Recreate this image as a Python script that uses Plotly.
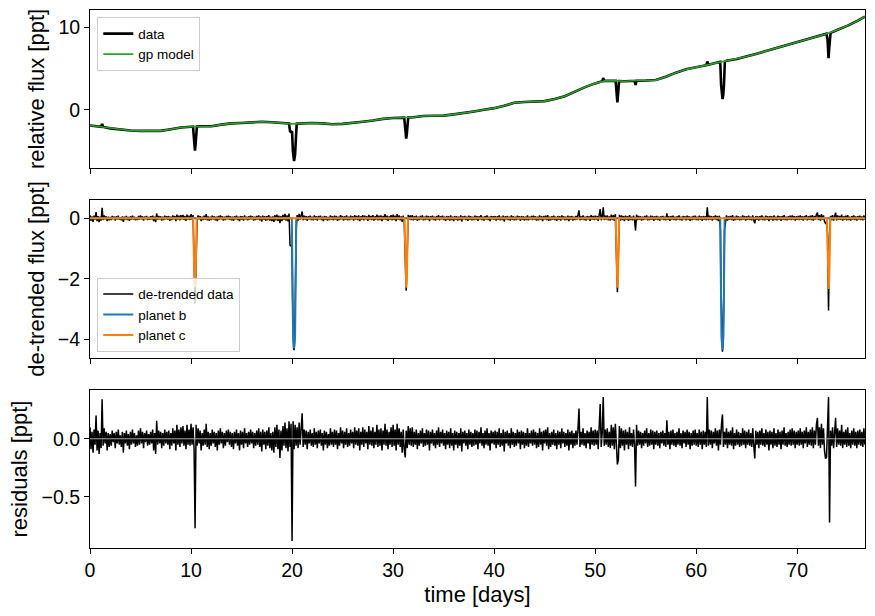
import plotly.graph_objects as go

# ---------------- data ----------------
cadence = 0.1  # days between residual samples, starting at t = 0

residuals = [
    0.1, -0.09, 0.06, -0.12, 0.08, -0.05, 0.20, -0.1, 0.07, -0.13, 0.05, -0.08, 0.34, -0.06, 0.09, -0.04, 0.06, -0.1, 0.05, -0.07,
    0.04, -0.06, 0.07, -0.03, 0.05, -0.08, 0.06, -0.04, 0.08, -0.05, 0.03, -0.07, 0.06, -0.12, 0.05, -0.04, 0.07, -0.06, 0.04, -0.09,
    0.06, -0.05, 0.08, -0.04, 0.05, -0.07, 0.03, -0.06, 0.07, -0.05, 0.09, -0.04, 0.06, -0.08, 0.05, -0.03, 0.07, -0.06, 0.04, -0.05,
    0.06, -0.04, 0.08, -0.1, 0.05, -0.13, 0.155, -0.05, 0.07, -0.04, 0.06, -0.08, 0.05, -0.06, 0.08, -0.04, 0.06, -0.05, 0.07, -0.09,
    0.05, -0.06, 0.09, -0.04, 0.07, -0.1, 0.12, -0.05, 0.08, -0.07, 0.1, -0.04, 0.11, -0.06, 0.07, -0.09, 0.12, -0.05, 0.08, -0.06,
    0.13, -0.05, 0.1, -0.08, -0.77, 0.12, -0.06, 0.09, -0.04, 0.07, -0.1, 0.05, -0.06, 0.08, -0.05, 0.13, -0.07, 0.06, -0.09, 0.05,
    -0.06, 0.08, -0.04, 0.06, -0.07, 0.05, -0.1, 0.07, -0.05, 0.09, -0.04, 0.06, -0.08, 0.05, -0.06, 0.07, -0.03, 0.08, -0.05, 0.06,
    -0.07, 0.05, -0.09, 0.06, -0.04, 0.08, -0.06, 0.05, -0.1, 0.07, -0.05, 0.06, -0.08, 0.09, -0.04, 0.05, -0.07, 0.06, -0.05, 0.08,
    -0.04, 0.06, -0.08, 0.05, -0.06, 0.07, -0.05, 0.09, -0.07, 0.06, -0.11, 0.08, -0.05, 0.06, -0.09, 0.07, -0.06, 0.1, -0.08, 0.05,
    -0.1, 0.06, -0.12, 0.1, -0.07, 0.12, -0.09, 0.08, -0.165, 0.07, -0.1, 0.11, -0.06, 0.14, -0.08, 0.09, -0.11, 0.15, -0.07, 0.13,
    -0.88, 0.15, -0.09, 0.12, -0.06, 0.1, -0.08, 0.14, -0.05, 0.09, 0.22, -0.07, 0.08, -0.05, 0.07, -0.09, 0.06, -0.04, 0.08, -0.06,
    0.05, -0.07, 0.09, -0.05, 0.06, -0.08, 0.07, -0.04, 0.08, -0.06, 0.05, -0.1, 0.07, -0.05, 0.06, -0.08, 0.04, -0.06, 0.09, -0.05,
    0.06, -0.07, 0.08, -0.05, 0.07, -0.09, 0.05, -0.06, 0.1, -0.04, 0.07, -0.08, 0.06, -0.05, 0.09, -0.07, 0.05, -0.06, 0.08, -0.04,
    0.06, -0.08, 0.1, -0.05, 0.07, -0.06, 0.09, -0.1, 0.06, -0.05, 0.1, -0.07, 0.08, -0.04, 0.06, -0.09, 0.11, -0.05, 0.07, -0.06,
    0.1, -0.08, 0.06, -0.05, 0.12, -0.07, 0.08, -0.06, 0.09, -0.1, 0.07, -0.05, 0.13, -0.06, 0.08, -0.09, 0.06, -0.05, 0.1, -0.07,
    0.12, -0.06, 0.08, -0.1, 0.13, -0.05, 0.09, -0.07, 0.06, -0.12, 0.08, -0.09, -0.16, 0.07, -0.08, 0.11, -0.05, 0.09, -0.06, 0.1,
    -0.07, 0.06, -0.05, 0.08, -0.09, 0.05, -0.06, 0.07, -0.04, 0.09, -0.07, 0.05, -0.06, 0.08, -0.05, 0.07, -0.1, 0.06, -0.04, 0.08,
    -0.06, 0.05, -0.08, 0.07, -0.05, 0.1, -0.07, 0.06, -0.04, 0.08, -0.06, 0.05, -0.09, 0.07, -0.05, 0.06, -0.08, 0.09, -0.06, 0.05,
    -0.1, 0.07, -0.05, 0.06, -0.08, 0.05, -0.06, 0.09, -0.11, 0.06, -0.04, 0.07, -0.06, 0.05, -0.09, 0.08, -0.05, 0.06, -0.07, 0.05,
    -0.06, 0.08, -0.05, 0.07, -0.09, 0.06, -0.04, 0.1, -0.06, 0.05, -0.08, 0.07, -0.05, 0.09, -0.06, 0.05, -0.1, 0.07, -0.04, 0.06,
    -0.05, 0.07, -0.08, 0.06, -0.05, 0.09, -0.07, 0.05, -0.06, 0.08, -0.11, 0.06, -0.04, 0.07, -0.06, 0.05, -0.08, 0.09, -0.05, 0.06,
    -0.07, 0.05, -0.06, 0.08, -0.04, 0.06, -0.09, 0.07, -0.05, 0.06, -0.08, 0.05, -0.06, 0.09, -0.07, 0.05, -0.04, 0.07, -0.06, 0.08,
    -0.05, 0.06, -0.08, 0.05, -0.07, 0.09, -0.05, 0.06, -0.1, 0.07, -0.04, 0.08, -0.06, 0.1, -0.09, 0.05, -0.07, 0.06, -0.05, 0.08,
    -0.06, 0.05, -0.09, 0.07, -0.05, 0.06, -0.08, 0.09, -0.04, 0.06, -0.07, 0.05, -0.06, 0.08, -0.1, 0.06, -0.05, 0.07, -0.08, 0.05,
    -0.06, 0.07, -0.05, 0.08, 0.26, -0.07, 0.06, -0.05, 0.09, -0.06, 0.05, -0.08, 0.07, -0.04, 0.06, -0.09, 0.1, -0.05, 0.07, -0.06,
    0.08, -0.05, 0.07, -0.09, 0.06, 0.30, -0.07, 0.05, 0.36, -0.06, 0.08, -0.05, 0.09, -0.07, 0.06, -0.08, 0.12, -0.06, 0.1, -0.09,
    0.13, -0.1, -0.22, -0.18, 0.11, -0.08, 0.09, -0.06, 0.07, -0.1, 0.08, -0.05, 0.06, -0.09, 0.1, -0.06, 0.05, -0.07, 0.08, -0.05,
    -0.41, 0.12, -0.06, 0.07, -0.05, 0.06, -0.08, 0.05, -0.06, 0.07, -0.04, 0.09, -0.07, 0.05, -0.06, 0.08, -0.05, 0.07, -0.09, 0.06,
    -0.05, 0.07, -0.06, 0.05, -0.08, 0.06, -0.04, 0.07, -0.06, 0.05, -0.07, 0.16, -0.05, 0.06, -0.09, 0.07, -0.05, 0.08, -0.06, 0.05,
    -0.07, 0.06, -0.05, 0.09, -0.06, 0.05, -0.08, 0.07, -0.04, 0.06, -0.07, 0.08, -0.05, 0.06, -0.09, 0.05, -0.06, 0.07, -0.05, 0.08,
    -0.06, 0.05, -0.07, 0.08, -0.05, 0.06, -0.09, 0.07, -0.05, 0.06, -0.07, 0.36, -0.06, 0.08, -0.05, 0.07, -0.08, 0.06, -0.04, 0.09,
    -0.06, 0.07, -0.1, 0.08, -0.05, 0.12, 0.21, -0.07, 0.06, -0.05, 0.09, -0.08, 0.06, -0.05, 0.07, -0.06, 0.1, -0.09, 0.05, -0.06,
    0.08, -0.05, 0.06, -0.07, 0.05, -0.06, 0.09, -0.05, 0.07, -0.08, 0.06, -0.05, 0.08, -0.06, 0.05, -0.07, 0.09, -0.06, -0.17, 0.07,
    -0.05, 0.06, -0.08, 0.07, -0.05, 0.09, -0.06, 0.05, -0.07, 0.08, -0.05, 0.06, -0.1, 0.07, -0.05, 0.06, -0.08, 0.09, -0.06, 0.05,
    -0.07, 0.08, -0.05, 0.06, -0.09, 0.07, -0.05, 0.1, -0.06, 0.05, -0.07, 0.06, -0.05, 0.08, -0.06, 0.09, -0.05, 0.07, -0.08, 0.06,
    -0.05, 0.07, -0.06, 0.09, -0.05, 0.06, -0.08, 0.07, -0.04, 0.1, -0.07, 0.06, -0.05, 0.08, -0.06, 0.1, -0.08, 0.07, -0.05, 0.12,
    0.18, -0.06, 0.1, -0.08, 0.13, -0.05, 0.09, -0.1, -0.17, -0.16, 0.08, 0.36, -0.72, 0.07, -0.06, 0.1, -0.08, 0.06, 0.18, -0.07,
    0.09, -0.05, 0.07, -0.06, 0.12, -0.08, 0.06, -0.05, 0.08, -0.07, 0.1, -0.06, 0.05, -0.08, 0.07, -0.05, 0.09, -0.06, 0.06, -0.08,
    0.07, -0.05, 0.08, -0.06, 0.06, -0.07, 0.09, -0.05,
]

# GP (trend) model, relative flux [ppt]
gp_time = [0, 1, 2, 3, 4, 5, 6, 7, 8, 9, 10, 11, 12, 13, 14, 15, 16, 17, 18, 19,
           20, 21, 22, 23, 24, 25, 26, 27, 28, 29, 30, 31, 32, 33, 34, 35, 36, 37, 38, 39,
           40, 41, 42, 43, 44, 45, 46, 47, 48, 49, 50, 51, 52, 53, 54, 55, 56, 57, 58, 59,
           60, 61, 62, 63, 64, 65, 66, 67, 68, 69, 70, 71, 72, 73, 74, 75, 76, 76.7]
gp_flux = [-1.9, -2.05, -2.25, -2.4, -2.5, -2.55, -2.55, -2.55, -2.35, -2.15, -2.05, -2.0, -2.0, -1.8, -1.65, -1.6, -1.5, -1.45, -1.5, -1.6,
           -1.7, -1.65, -1.6, -1.65, -1.75, -1.7, -1.6, -1.45, -1.3, -1.1, -1.0, -0.95, -0.9, -0.75, -0.72, -0.7, -0.55, -0.4, -0.2, 0.0,
           0.2, 0.5, 0.85, 0.95, 1.0, 1.05, 1.3, 1.65, 2.2, 2.75, 3.2, 3.5, 3.5, 3.45, 3.55, 3.55, 3.6, 4.0, 4.5, 4.9,
           5.15, 5.4, 5.7, 5.95, 6.15, 6.45, 6.8, 7.15, 7.5, 7.9, 8.25, 8.6, 8.95, 9.25, 9.7, 10.2, 10.8, 11.3]

# raw-data points that depart from the trend (transits, glitches, spikes)
raw_extra_time = [1.1, 1.2, 1.3,
                  10.2, 10.27, 10.33, 10.39, 10.45, 10.51, 10.58,
                  19.7, 19.8, 19.9, 20.0, 20.08, 20.2, 20.3, 20.38, 20.46,
                  31.1, 31.18, 31.24, 31.3, 31.36, 31.42, 31.5,
                  50.7, 50.8, 50.9,
                  52.03, 52.1, 52.15, 52.2, 52.25, 52.3, 52.37,
                  53.9, 54.0, 54.1,
                  61.0, 61.1, 61.2,
                  62.38, 62.47, 62.54, 62.61, 62.68, 62.75, 62.84,
                  72.9, 73.0, 73.05, 73.1, 73.15, 73.2, 73.3]
raw_extra_flux = [-2.05, -1.7, -2.08,
                  -2.04, -3.2, -4.3, -4.95, -4.2, -3.1, -2.03,
                  -1.65, -2.6, -2.7, -2.6, -5.0, -6.2, -5.4, -3.5, -1.69,
                  -0.95, -2.0, -3.0, -3.5, -2.9, -1.9, -0.93,
                  3.45, 3.85, 3.48,
                  3.5, 2.4, 1.5, 0.9, 1.6, 2.5, 3.49,
                  3.52, 3.0, 3.53,
                  5.4, 5.85, 5.46,
                  5.8, 3.0, 1.8, 1.3, 1.8, 3.0, 5.85,
                  9.22, 8.5, 7.3, 6.25, 7.2, 8.3, 9.33]

# de-trended data inside transits [ppt]
detr_transit_time = [10.3, 10.35, 10.4, 10.45, 10.5,
                     19.8, 19.9, 20.0, 20.05, 20.1, 20.15, 20.2, 20.25, 20.3, 20.35, 20.4,
                     31.2, 31.25, 31.3, 31.35, 31.4,
                     52.1, 52.15, 52.2, 52.25, 52.3,
                     62.4, 62.45, 62.5, 62.55, 62.6, 62.65, 62.7, 62.75, 62.8,
                     73.0, 73.05, 73.1, 73.15, 73.2]
detr_transit_flux = [-1.0, -2.0, -2.83, -2.2, -1.0,
                     -0.9, -0.92, -0.88, -2.6, -3.9, -4.3, -4.36, -4.1, -3.2, -1.8, -0.4,
                     -0.9, -1.9, -2.4, -1.9, -0.9,
                     -0.9, -1.9, -2.45, -1.9, -0.9,
                     -0.4, -2.2, -3.6, -4.2, -4.41, -4.2, -3.6, -2.2, -0.4,
                     -0.5, -1.9, -3.05, -2.0, -0.6]

# transit models
planet_b_time = [0.0, 19.98, 20.04, 20.1, 20.2, 20.3, 20.36, 20.42,
                 62.38, 62.44, 62.5, 62.6, 62.7, 62.76, 62.82, 76.7]
planet_b_flux = [0, 0, -2.0, -3.9, -4.3, -3.9, -2.0, 0,
                 0, -2.0, -3.9, -4.35, -3.9, -2.0, 0, 0]
planet_c_time = [0.0, 10.22, 10.28, 10.33, 10.39, 10.45, 10.5, 10.56,
                 31.13, 31.19, 31.24, 31.3, 31.36, 31.41, 31.47,
                 52.03, 52.09, 52.14, 52.2, 52.26, 52.31, 52.37,
                 72.94, 73.0, 73.05, 73.11, 73.17, 73.22, 73.28, 76.7]
planet_c_flux = [0, 0, -1.2, -2.05, -2.28, -2.05, -1.2, 0,
                 0, -1.2, -2.05, -2.3, -2.05, -1.2, 0,
                 0, -1.2, -2.05, -2.3, -2.05, -1.2, 0,
                 0, -1.2, -2.05, -2.34, -2.05, -1.2, 0, 0]

# ---------------- assemble series ----------------
time = [round(i * cadence, 2) for i in range(len(residuals))]

raw = dict(zip(gp_time, gp_flux))
raw.update(zip(raw_extra_time, raw_extra_flux))
raw_t = sorted(raw)
raw_f = [raw[k] for k in raw_t]

detr = dict(zip(time, residuals))
detr.update(zip(detr_transit_time, detr_transit_flux))
detr_t = sorted(detr)
detr_f = [detr[k] for k in detr_t]

C0, C1, C2 = "#1f77b4", "#ff7f0e", "#2ca02c"
FONT = "Liberation Sans, Arial, sans-serif"

fig = go.Figure()
# top
fig.add_trace(go.Scatter(x=raw_t, y=raw_f, mode="lines", line=dict(color="black", width=2.6),
                         name="data", xaxis="x", yaxis="y", legend="legend", legendgroup="a"))
fig.add_trace(go.Scatter(x=gp_time, y=gp_flux, mode="lines", line=dict(color=C2, width=1.6),
                         name="gp model", xaxis="x", yaxis="y", legend="legend", legendgroup="b"))
# middle
fig.add_trace(go.Scatter(x=detr_t, y=detr_f, mode="lines", line=dict(color="black", width=1.5),
                         name="de-trended data", xaxis="x2", yaxis="y2", legend="legend2", legendgroup="c"))
fig.add_trace(go.Scatter(x=planet_b_time, y=planet_b_flux, mode="lines", line=dict(color=C0, width=2),
                         name="planet b", xaxis="x2", yaxis="y2", legend="legend2", legendgroup="d"))
fig.add_trace(go.Scatter(x=planet_c_time, y=planet_c_flux, mode="lines", line=dict(color=C1, width=2),
                         name="planet c", xaxis="x2", yaxis="y2", legend="legend2", legendgroup="e"))
# bottom
fig.add_trace(go.Scatter(x=time, y=residuals, mode="lines", line=dict(color="black", width=1.5),
                         showlegend=False, xaxis="x3", yaxis="y3"))

H = 538.0
dom_top = [380 / H, 1.0]
dom_mid = [190 / H, 348 / H]
dom_bot = [0.0, 158 / H]

axis_common = dict(showline=True, linecolor="black", linewidth=1, mirror=True,
                   ticks="outside", ticklen=5, tickwidth=1, tickcolor="black",
                   showgrid=False, zeroline=False, automargin=False,
                   tickfont=dict(size=19.5, color="black"))
xr = [0, 76.71]
xt = [0, 10, 20, 30, 40, 50, 60, 70]

fig.update_layout(
    width=875, height=616,
    margin=dict(l=90, r=10, t=10, b=68),
    plot_bgcolor="white", paper_bgcolor="white",
    font=dict(family=FONT, color="black"),
    xaxis=dict(domain=[0, 1], anchor="y", range=xr, showticklabels=False, matches="x3",
               tickvals=xt, **axis_common),
    xaxis2=dict(domain=[0, 1], anchor="y2", range=xr, showticklabels=False, matches="x3",
                tickvals=xt, **axis_common),
    xaxis3=dict(domain=[0, 1], anchor="y3", range=xr, tickvals=xt,
                title=dict(text="time [days]", font=dict(size=22), standoff=6), **axis_common),
    yaxis=dict(domain=dom_top, anchor="x", range=[-7.05, 12.09], tickvals=[0, 10],
               title=dict(text="relative flux [ppt]", font=dict(size=22), standoff=7), **axis_common),
    yaxis2=dict(domain=dom_mid, anchor="x2", range=[-4.62, 0.6], tickvals=[-4, -2, 0],
                title=dict(text="de-trended flux [ppt]", font=dict(size=22), standoff=7), **axis_common),
    yaxis3=dict(domain=dom_bot, anchor="x3", range=[-0.94, 0.42], tickvals=[-0.5, 0.0],
                tickformat=".1f",
                title=dict(text="residuals [ppt]", font=dict(size=22), standoff=7), **axis_common),
    legend=dict(x=0.0094, y=0.9864, xanchor="left", yanchor="top",
                bgcolor="rgba(255,255,255,0.8)", bordercolor="#cccccc", borderwidth=1,
                font=dict(size=13.5), tracegroupgap=0, traceorder="grouped"),
    legend2=dict(x=0.0094, y=(548 - 351.7) / H, xanchor="left", yanchor="bottom",
                 bgcolor="rgba(255,255,255,0.8)", bordercolor="#cccccc", borderwidth=1,
                 font=dict(size=13.5), tracegroupgap=0, traceorder="grouped"),
    shapes=[dict(type="line", xref="x3 domain", yref="y3", x0=0, x1=1, y0=0, y1=0,
                 line=dict(color="#aaaaaa", width=1), layer="above")],
)

fig.write_html("out.html", config={"displayModeBar": False},
               post_script="document.body.style.margin='0';document.body.style.overflow='hidden';")
